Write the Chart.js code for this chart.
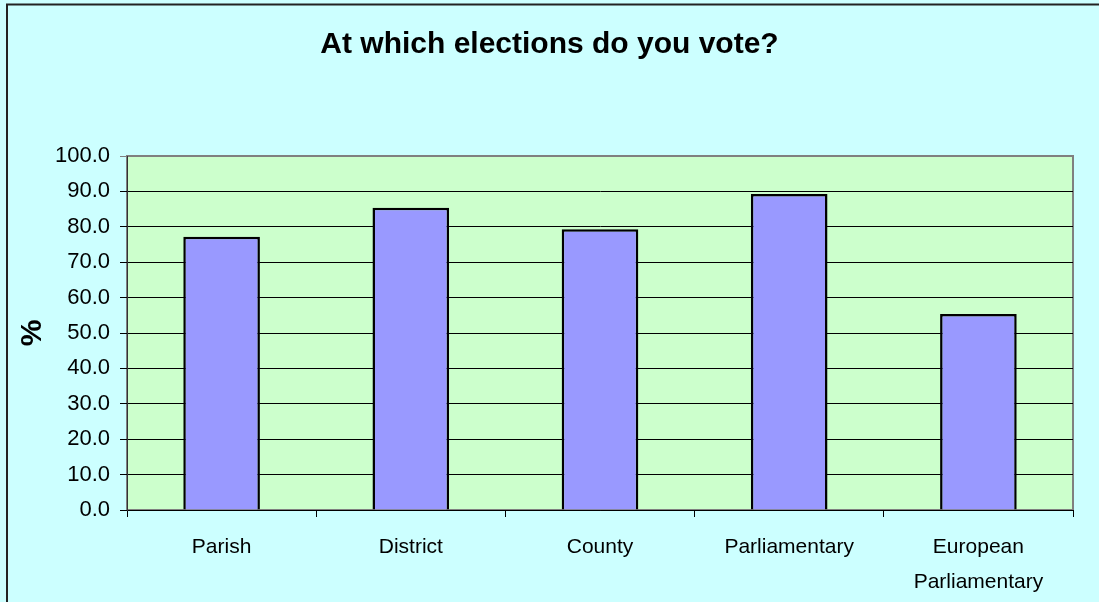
<!DOCTYPE html>
<html>
<head>
<meta charset="utf-8">
<script src="https://cdn.jsdelivr.net/npm/chart.js@4/dist/chart.umd.min.js"></script>
<style>
  html, body { margin: 0; padding: 0; background: #CCFFFF; overflow: hidden; }
  #wrap { width: 1099px; height: 602px; }
</style>
</head>
<body>
<div id="wrap"><canvas id="voteChart" width="1099" height="602"></canvas></div>
<script>
// Chart data
const categories = ['Parish', 'District', 'County', 'Parliamentary', ['European', 'Parliamentary']];
const votePercent = [77.2, 85.4, 79.3, 89.3, 55.4];
const yTicks = [0, 10, 20, 30, 40, 50, 60, 70, 80, 90, 100];

const FONT = '"Liberation Sans", Arial, sans-serif';

// Paint the cyan background, outer frame and green plot area
const backdrop = {
    id: 'backdrop',
    beforeDraw(chart) {
        const ctx = chart.ctx;
        const a = chart.chartArea;
        ctx.save();
        ctx.fillStyle = '#CCFFFF';
        ctx.fillRect(0, 0, chart.width, chart.height);
        ctx.strokeStyle = '#222';
        ctx.lineWidth = 2;
        ctx.beginPath();
        ctx.moveTo(7, chart.height);
        ctx.lineTo(7, 4.5);
        ctx.lineTo(chart.width, 4.5);
        ctx.stroke();
        ctx.fillStyle = '#CCFFCC';
        ctx.fillRect(a.left, a.top, a.right - a.left, a.bottom - a.top);
        ctx.strokeStyle = '#808080';
        ctx.lineWidth = 2;
        ctx.strokeRect(a.left, a.top, a.right - a.left, a.bottom - a.top);
        ctx.restore();
    }
};

new Chart(document.getElementById('voteChart').getContext('2d'), {
    type: 'bar',
    data: {
        labels: categories,
        datasets: [{
            data: votePercent,
            backgroundColor: '#9999FF',
            borderColor: '#000000',
            borderWidth: 2.5,
            barPercentage: 0.405,
            categoryPercentage: 1
        }]
    },
    options: {
        responsive: false,
        animation: false,
        layout: { padding: 0 },
        plugins: {
            legend: { display: false },
            tooltip: { enabled: false },
            title: {
                display: true,
                text: 'At which elections do you vote?',
                color: '#000',
                font: { family: FONT, size: 30, weight: 'bold' },
                padding: { top: 27, bottom: 93 }
            }
        },
        scales: {
            x: {
                grid: {
                    display: true,
                    drawOnChartArea: false,
                    drawTicks: true,
                    tickLength: 7,
                    color: '#000'
                },
                border: { display: true, color: '#000', width: 1 },
                ticks: {
                    color: '#000',
                    padding: 12,
                    maxRotation: 0,
                    autoSkip: false,
                    font: { family: FONT, size: 21, lineHeight: 1.7 }
                },
                afterFit(scale) { scale.height = 92; }
            },
            y: {
                min: 0,
                max: 100,
                afterBuildTicks(scale) {
                    scale.ticks = yTicks.map(v => ({ value: v }));
                },
                grid: {
                    color: ctx => ctx.tick && ctx.tick.value === 100 ? '#808080' : '#000',
                    lineWidth: 1,
                    tickLength: 7,
                    drawTicks: true
                },
                border: { display: true, color: '#333', width: 1 },
                ticks: {
                    color: '#000',
                    padding: 10,
                    font: { family: FONT, size: 22 },
                    callback: v => Number(v).toFixed(1)
                },
                title: {
                    display: true,
                    text: '%',
                    color: '#000',
                    font: { family: FONT, size: 30, weight: 'bold' },
                    padding: { top: 15, bottom: 0 }
                },
                afterFit(scale) { scale.width = 127; }
            },
            yRight: {
                position: 'right',
                display: true,
                grid: { display: false },
                border: { display: false },
                ticks: { display: false },
                afterFit(scale) { scale.width = 26; }
            }
        }
    },
    plugins: [backdrop]
});
</script>
</body>
</html>
